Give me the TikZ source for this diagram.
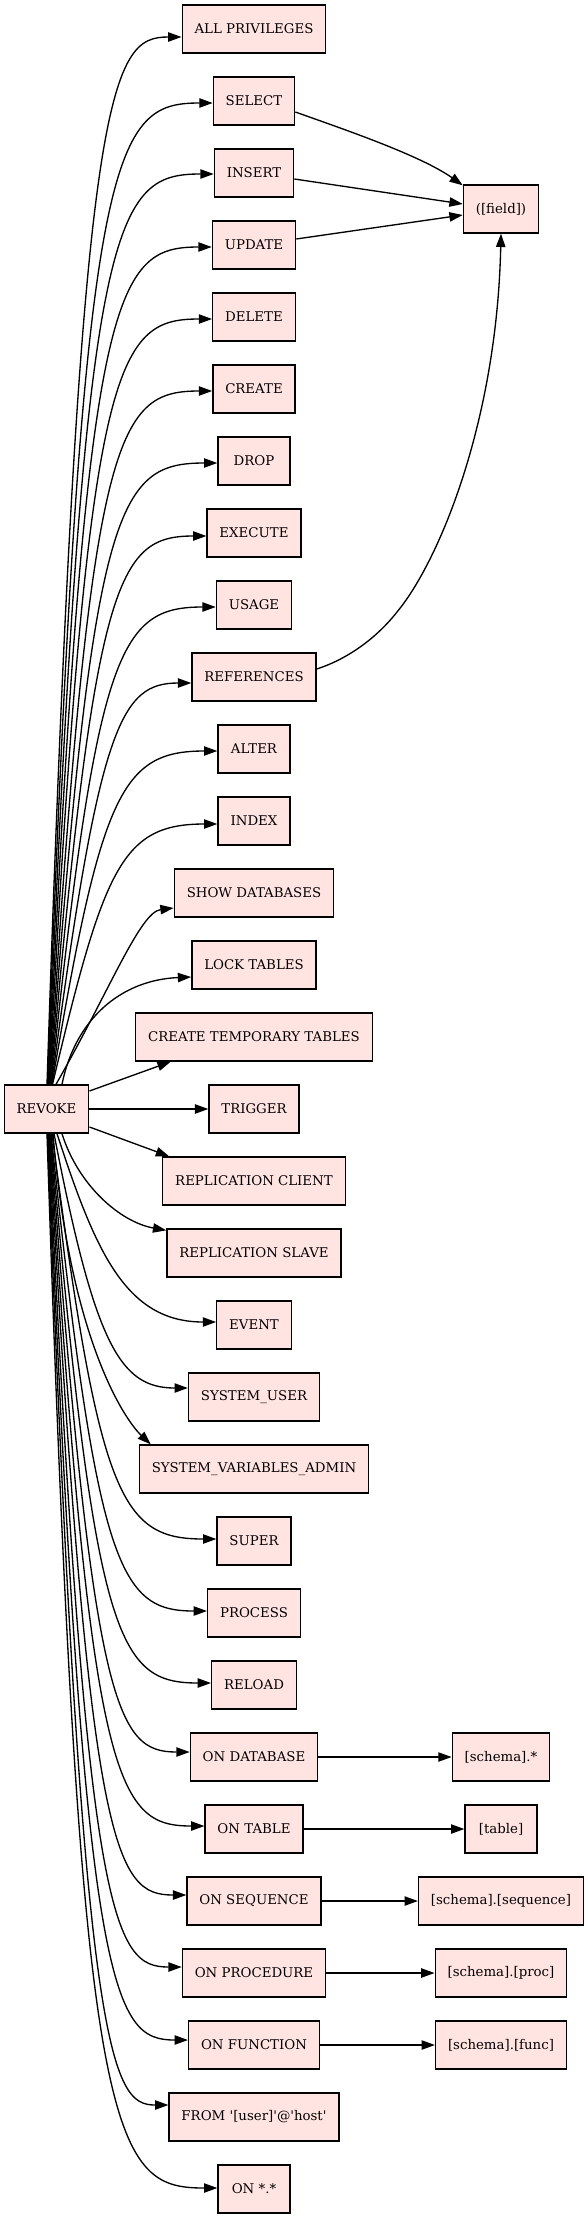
\documentclass[tikz,border=0pt]{standalone}
\usepackage{fontspec}
\setmainfont{DejaVu Serif}
\usetikzlibrary{arrows.meta,calc}
\definecolor{boxfill}{HTML}{FFE4E1}
\begin{document}
\begin{tikzpicture}[x=0.75pt,y=-0.75pt,
  box/.style={draw=black, fill=boxfill, line width=1pt, minimum width=54pt, minimum height=36pt,
              inner xsep=9.3pt, inner ysep=2pt, font=\fontsize{10pt}{12pt}\selectfont},
  edge/.style={draw=black, line width=1pt, -{Triangle[length=10pt,width=7pt]}}]
\useasboundingbox (0,0) rectangle (588,2219);
% root
\node[box] (rv) at (46.5,1109) {REVOKE};
% middle column
\node[box] (n0)  at (254,29)   {ALL PRIVILEGES};
\node[box] (n1)  at (254,101)  {SELECT};
\node[box] (n2)  at (254,173)  {INSERT};
\node[box] (n3)  at (254,245)  {UPDATE};
\node[box] (n4)  at (254,317)  {DELETE};
\node[box] (n5)  at (254,389)  {CREATE};
\node[box] (n6)  at (254,461)  {DROP};
\node[box] (n7)  at (254,533)  {EXECUTE};
\node[box] (n8)  at (254,605)  {USAGE};
\node[box] (n9)  at (254,677)  {REFERENCES};
\node[box] (n10) at (254,749)  {ALTER};
\node[box] (n11) at (254,821)  {INDEX};
\node[box] (n12) at (254,893)  {SHOW DATABASES};
\node[box] (n13) at (254,965)  {LOCK TABLES};
\node[box] (n14) at (254,1037) {CREATE TEMPORARY TABLES};
\node[box] (n15) at (254,1109) {TRIGGER};
\node[box] (n16) at (254,1181) {REPLICATION CLIENT};
\node[box] (n17) at (254,1253) {REPLICATION SLAVE};
\node[box] (n18) at (254,1325) {EVENT};
\node[box] (n19) at (254,1397) {SYSTEM\_USER};
\node[box] (n20) at (254,1469) {SYSTEM\_VARIABLES\_ADMIN};
\node[box] (n21) at (254,1541) {SUPER};
\node[box] (n22) at (254,1613) {PROCESS};
\node[box] (n23) at (254,1685) {RELOAD};
\node[box] (n24) at (254,1757) {ON DATABASE};
\node[box] (n25) at (254,1829) {ON TABLE};
\node[box] (n26) at (254,1901) {ON SEQUENCE};
\node[box] (n27) at (254,1973) {ON PROCEDURE};
\node[box] (n28) at (254,2045) {ON FUNCTION};
\node[box] (n29) at (254,2117) {FROM \textquotesingle[user]\textquotesingle @\textquotesingle host\textquotesingle};
\node[box] (n30) at (254,2189) {ON *.*};
% right column
\node[box] (fld) at (501,209)  {([field])};
\node[box] (s24) at (501,1757) {[schema].*};
\node[box] (s25) at (501,1829) {[table]};
\node[box] (s26) at (501,1901) {[schema].[sequence]};
\node[box] (s27) at (501,1973) {[schema].[proc]};
\node[box] (s28) at (501,2045) {[schema].[func]};
% upward edges from REVOKE
\draw[edge] ($(rv.north)+(0.5,0)$) .. controls (80,80) and (110,37) .. ($(n0.west)+(0,8)$);
\draw[edge] ($(rv.north)+(1.0,0)$) .. controls (82,146) and (111,103) .. ($(n1.west)+(0,2)$);
\draw[edge] ($(rv.north)+(1.5,0)$) .. controls (84,217) and (112,174) .. ($(n2.west)+(0,1)$);
\draw[edge] ($(rv.north)+(2.0,0)$) .. controls (86,290) and (113,247) .. ($(n3.west)+(0,2)$);
\draw[edge] ($(rv.north)+(2.5,0)$) .. controls (88,362) and (114,319) .. ($(n4.west)+(0,2)$);
\draw[edge] ($(rv.north)+(3.0,0)$) .. controls (91,434) and (115,391) .. ($(n5.west)+(0,2)$);
\draw[edge] ($(rv.north)+(3.5,0)$) .. controls (93,506) and (116,463) .. ($(n6.west)+(0,2)$);
\draw[edge] ($(rv.north)+(4.0,0)$) .. controls (95,579) and (117,536) .. ($(n7.west)+(0,3)$);
\draw[edge] ($(rv.north)+(4.5,0)$) .. controls (97,650) and (119,607) .. ($(n8.west)+(0,2)$);
\draw[edge] ($(rv.north)+(5.0,0)$) .. controls (99,726) and (120,683) .. ($(n9.west)+(0,6)$);
\draw[edge] ($(rv.north)+(5.5,0)$) .. controls (101,794) and (121,751) .. ($(n10.west)+(0,2)$);
\draw[edge] ($(rv.north)+(6.0,0)$) .. controls (104,867) and (122,824) .. ($(n11.west)+(0,3)$);
\draw[edge] ($(rv.north)+(9.5,0)$) .. controls (110,990) and (140,912) .. ($(n12.west)+(0,15)$);
\draw[edge] ($(rv.north)+(15.5,0)$) .. controls (75,1020) and (120,980) .. ($(n13.west)+(0,12)$);
% near edges
\draw[edge] ($(rv.east)+(0,-18)$) -- ($(n14.south west)+(35.6,0)$);
\draw[edge] (rv.east) -- (n15.west);
\draw[edge] ($(rv.east)+(0,18)$) -- ($(n16.north west)+(7,0)$);
% downward edges from REVOKE
\draw[edge] ($(rv.south)+(15.5,0)$) .. controls (78,1185) and (120,1222) .. ($(n17.north west)+(0,2)$);
\draw[edge] ($(rv.south)+(10.5,0)$) .. controls (95,1250) and (125,1322) .. ($(n18.west)+(0,-3)$);
\draw[edge] ($(rv.south)+(7.5,0)$) .. controls (95,1345) and (120,1388) .. ($(n19.west)+(0,-9)$);
\draw[edge] ($(rv.south)+(6.5,0)$) .. controls (70,1340) and (125,1420) .. ($(n20.north west)+(12,0)$);
\draw[edge] ($(rv.south)+(5.5,0)$) .. controls (99,1496) and (120,1539) .. ($(n21.west)+(0,-2)$);
\draw[edge] ($(rv.south)+(4.5,0)$) .. controls (97,1568) and (119,1611) .. ($(n22.west)+(0,-2)$);
\draw[edge] ($(rv.south)+(4.0,0)$) .. controls (95,1640) and (117,1683) .. ($(n23.west)+(0,-2)$);
\draw[edge] ($(rv.south)+(3.5,0)$) .. controls (93,1709) and (116,1752) .. ($(n24.west)+(0,-5)$);
\draw[edge] ($(rv.south)+(3.0,0)$) .. controls (91,1783) and (115,1826) .. ($(n25.west)+(0,-3)$);
\draw[edge] ($(rv.south)+(2.5,0)$) .. controls (89,1852) and (114,1895) .. ($(n26.west)+(0,-6)$);
\draw[edge] ($(rv.south)+(2.0,0)$) .. controls (86,1924) and (113,1967) .. ($(n27.west)+(0,-6)$);
\draw[edge] ($(rv.south)+(1.5,0)$) .. controls (84,1997) and (112,2040) .. ($(n28.west)+(0,-5)$);
\draw[edge] ($(rv.south)+(1.0,0)$) .. controls (82,2062) and (111,2105) .. ($(n29.west)+(0,-12)$);
\draw[edge] ($(rv.south)+(0.5,0)$) .. controls (80,2145) and (110,2188) .. ($(n30.west)+(0,-1)$);
% edges to ([field])
\draw[edge] ($(n1.east)+(0,11)$) .. controls (340,128) and (420,155) .. ($(fld.north west)+(0,1)$);
\draw[edge] ($(n2.east)+(0,6)$) -- ($(fld.west)+(0,-5)$);
\draw[edge] ($(n3.east)+(0,-6)$) -- ($(fld.west)+(0,6)$);
\draw[edge] ($(n9.east)+(0,-8)$) .. controls (345,660) and (375,640) .. (397,612)
            .. controls (440,560) and (497,420) .. (fld.south);
% right edges
\draw[edge] (n24.east) -- (s24.west);
\draw[edge] (n25.east) -- (s25.west);
\draw[edge] (n26.east) -- (s26.west);
\draw[edge] (n27.east) -- (s27.west);
\draw[edge] (n28.east) -- (s28.west);
\end{tikzpicture}
\end{document}
